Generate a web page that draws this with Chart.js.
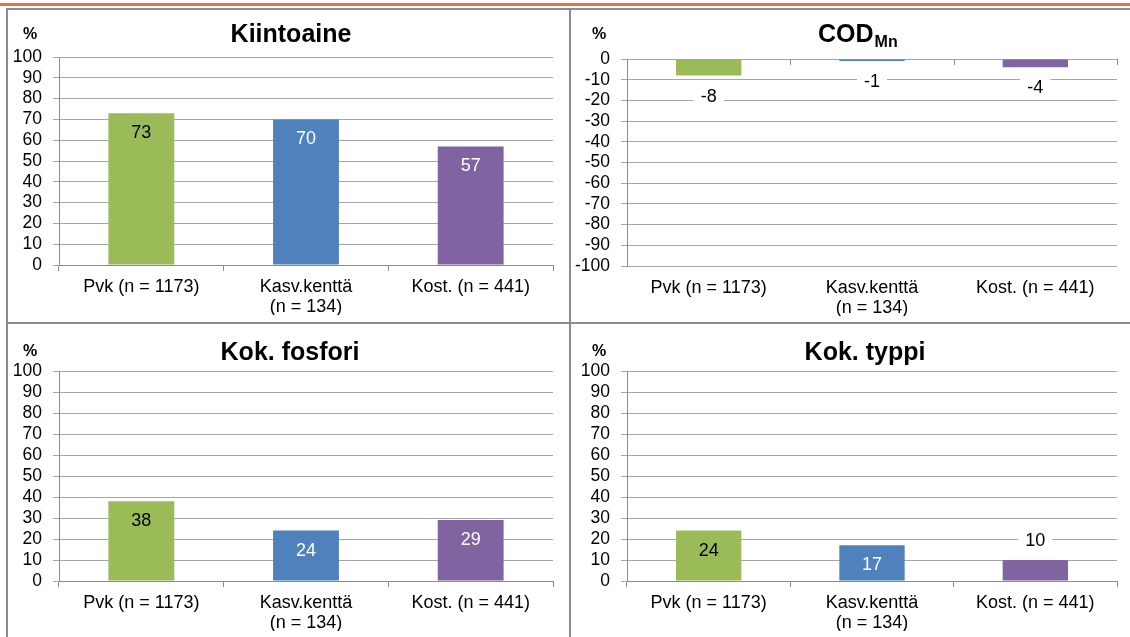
<!DOCTYPE html>
<html>
<head>
<meta charset="utf-8">
<script src="https://cdn.jsdelivr.net/npm/chart.js@4.4.1/dist/chart.umd.min.js"></script>
<style>
  body { margin: 0; background: #fff; width: 1130px; height: 637px; overflow: hidden; position: relative; }
  .rule { position: absolute; background: #8c8c8c; }
  .panel { position: absolute; }
</style>
</head>
<body>
<div style="position:absolute;left:0;top:3px;width:1130px;height:3px;background:#f26a3f"></div>
<div class="rule" style="left:6px;top:8px;width:1124px;height:2px"></div>
<div class="rule" style="left:6px;top:322px;width:1124px;height:2px"></div>
<div class="rule" style="left:6px;top:8px;width:2px;height:629px"></div>
<div class="rule" style="left:569px;top:8px;width:2px;height:629px"></div>

<div class="panel" style="left:8px;top:10px"><canvas id="kiinto" width="561" height="312"></canvas></div>
<div class="panel" style="left:571px;top:10px"><canvas id="cod" width="559" height="312"></canvas></div>
<div class="panel" style="left:8px;top:324px"><canvas id="fosfori" width="561" height="313"></canvas></div>
<div class="panel" style="left:571px;top:324px"><canvas id="typpi" width="559" height="313"></canvas></div>

<script>
// data
const categories = ['Pvk (n = 1173)', ['Kasv.kenttä', '(n = 134)'], 'Kost. (n = 441)'];
const kiintoaine = [73, 70, 57];
const codMn = [-8, -1, -4];
const kokFosfori = [38, 24, 29];
const kokTyppi = [24, 17, 10];

const barColors = ['#9BBB59', '#4F81BD', '#8064A2'];
const insideTextColors = ['#000', '#fff', '#fff'];
const FONT = '"Liberation Sans", Arial, sans-serif';
const gridGray = '#a6a6a6';
const axisGray = '#8c8c8c';

// values drawn at the bar end; short bars get the label outside on white
const barLabels = {
  id: 'barLabels',
  afterDatasetsDraw(chart) {
    const ctx = chart.ctx;
    const ds = chart.data.datasets[0];
    ctx.save();
    ctx.font = '18px ' + FONT;
    ctx.textAlign = 'center';
    ctx.textBaseline = 'middle';
    chart.getDatasetMeta(0).data.forEach((bar, i) => {
      const v = ds.data[i];
      const txt = String(v);
      const dir = v >= 0 ? 1 : -1;
      let y, color;
      if (Math.abs(v) >= 15) {
        y = bar.y + dir * 19;
        color = insideTextColors[i];
      } else {
        y = bar.y - dir * 20;
        color = '#000';
        const w = ctx.measureText(txt).width + 14;
        ctx.fillStyle = '#fff';
        ctx.fillRect(bar.x - w / 2, y - 9, w, 18);
      }
      ctx.fillStyle = color;
      ctx.fillText(txt, bar.x, y + 1);
    });
    ctx.restore();
  }
};

const panelText = {
  id: 'panelText',
  afterDraw(chart, args, o) {
    const ctx = chart.ctx;
    ctx.save();
    ctx.fillStyle = '#000';
    ctx.textBaseline = 'alphabetic';
    ctx.font = 'bold 16px ' + FONT;
    ctx.textAlign = 'center';
    ctx.fillText('%', o.pctX, o.pctY);
    ctx.font = 'bold 25px ' + FONT;
    if (o.sub) {
      ctx.textAlign = 'left';
      ctx.fillText(o.title, o.titleX, o.titleY);
      const w = ctx.measureText(o.title).width;
      ctx.font = 'bold 16px ' + FONT;
      ctx.fillText(o.sub, o.titleX + w + 1, o.titleY + 5);
    } else {
      ctx.fillText(o.title, o.titleX, o.titleY);
    }
    // tick marks on a category axis sitting at the top (negative chart)
    if (o.topTicks) {
      const x = chart.scales.x, a = chart.chartArea;
      ctx.strokeStyle = axisGray;
      ctx.lineWidth = 1;
      for (let i = 0; i <= x.ticks.length; i++) {
        const px = Math.round(a.left + (a.right - a.left) * i / x.ticks.length) + 0.5;
        ctx.beginPath();
        ctx.moveTo(px, a.top);
        ctx.lineTo(px, a.top + 6);
        ctx.stroke();
      }
    }
    ctx.restore();
  }
};

function makeChart(id, values, p) {
  const negative = p.min < 0;
  new Chart(document.getElementById(id), {
    type: 'bar',
    data: {
      labels: categories,
      datasets: [{
        data: values,
        backgroundColor: barColors,
        borderWidth: 0,
        barPercentage: 0.4,
        categoryPercentage: 1.0
      }]
    },
    options: {
      responsive: false,
      animation: false,
      events: [],
      layout: { padding: { left: 0, top: p.top, right: p.right, bottom: p.bottom } },
      plugins: {
        legend: { display: false },
        tooltip: { enabled: false },
        title: { display: false },
        panelText: p.text
      },
      scales: {
        x: {
          offset: true,
          afterFit: (s) => { s.height = 50; },
          grid: negative
            ? { display: false, drawTicks: false }
            : { offset: true, drawOnChartArea: false, drawTicks: true, tickLength: 6, color: axisGray },
          border: { display: !negative, color: axisGray },
          ticks: {
            color: '#000',
            padding: negative ? 12 : 6,
            maxRotation: 0,
            autoSkip: false,
            font: { family: FONT, size: 18, lineHeight: 1.12 }
          }
        },
        y: {
          min: p.min,
          max: p.max,
          afterFit: (s) => { s.width = p.yWidth; },
          grid: { color: gridGray, drawTicks: true, tickLength: 6 },
          border: { display: true, color: axisGray },
          ticks: {
            stepSize: 10,
            autoSkip: false,
            color: '#000',
            padding: 11,
            font: { family: FONT, size: 17.5, lineHeight: 1 }
          }
        }
      }
    },
    plugins: [barLabels, panelText]
  });
}

makeChart('kiinto', kiintoaine, {
  min: 0, max: 100, yWidth: 51, top: 47, right: 16, bottom: 7,
  text: { title: 'Kiintoaine', titleX: 283, titleY: 32, pctX: 22, pctY: 29 }
});
makeChart('cod', codMn, {
  min: -100, max: 0, yWidth: 56, top: 49, right: 13, bottom: 6,
  text: { title: 'COD', sub: 'Mn', titleX: 247, titleY: 32, pctX: 28, pctY: 29, topTicks: true }
});
makeChart('fosfori', kokFosfori, {
  min: 0, max: 100, yWidth: 51, top: 47, right: 16, bottom: 6,
  text: { title: 'Kok. fosfori', titleX: 282, titleY: 36, pctX: 22, pctY: 32 }
});
makeChart('typpi', kokTyppi, {
  min: 0, max: 100, yWidth: 56, top: 47, right: 13, bottom: 6,
  text: { title: 'Kok. typpi', titleX: 294, titleY: 36, pctX: 28, pctY: 32 }
});
</script>
</body>
</html>
